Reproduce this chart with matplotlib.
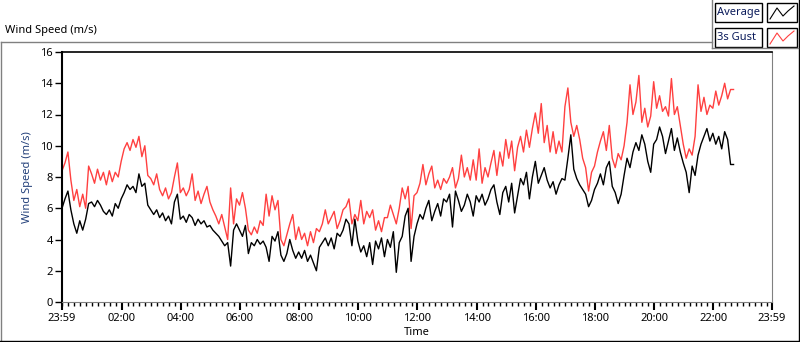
import matplotlib
matplotlib.use("Agg")
import matplotlib.pyplot as plt
from matplotlib.lines import Line2D
from matplotlib.patches import Rectangle
import pandas as pd

plt.rcParams['font.family'] = ['Noto Sans', 'DejaVu Sans']

# wind speed samples, one every 6 minutes starting 23:59
avg = [
    6.0, 6.6, 7.1, 5.9, 5.0, 4.4, 5.2, 4.6, 5.3, 6.3,
    6.4, 6.1, 6.5, 6.2, 5.8, 5.6, 5.9, 5.5, 6.3, 6.0,
    6.6, 7.0, 7.5, 7.2, 7.4, 7.0, 8.2, 7.4, 7.6, 6.2,
    5.9, 5.6, 5.9, 5.4, 5.7, 5.2, 5.5, 5.0, 6.4, 6.9,
    5.3, 5.5, 5.1, 5.6, 5.4, 4.9, 5.3, 5.0, 5.2, 4.8,
    4.9, 4.6, 4.4, 4.2, 3.9, 3.6, 3.8, 2.3, 4.6, 5.0,
    4.6, 4.2, 4.9, 3.1, 3.8, 3.6, 4.0, 3.7, 3.9, 3.5,
    2.6, 4.2, 3.9, 4.5, 3.0, 2.6, 3.1, 4.0, 3.3, 2.8,
    3.2, 2.8, 3.3, 2.6, 3.0, 2.5, 2.0, 3.5, 3.8, 4.1,
    3.6, 4.1, 3.4, 4.4, 4.2, 4.6, 5.3, 5.0, 3.6, 5.3,
    3.9, 3.2, 3.6, 2.9, 3.8, 2.4, 3.9, 3.4, 4.1, 2.9,
    4.0, 3.5, 4.5, 1.9, 3.8, 4.2, 5.5, 6.0, 2.6, 4.2,
    5.0, 5.6, 5.3, 6.0, 6.5, 5.2, 5.8, 6.3, 5.5, 6.6,
    6.4, 6.9, 4.8, 7.1, 6.5, 5.8, 6.2, 6.9, 6.4, 5.5,
    6.8, 6.4, 6.9, 6.2, 6.6, 7.2, 7.5, 6.4, 5.6, 7.0,
    7.4, 6.4, 7.6, 5.7, 6.8, 7.9, 7.5, 8.3, 6.6, 8.0,
    9.0, 7.6, 8.1, 8.6, 7.8, 7.3, 7.7, 6.9, 7.5, 7.9,
    7.8, 9.2, 10.7, 8.5, 7.9, 7.5, 7.2, 6.9, 6.1, 6.5,
    7.2, 7.6, 8.2, 7.5, 8.6, 9.0, 7.4, 7.0, 6.3, 6.9,
    8.1, 9.2, 8.6, 9.6, 10.2, 9.7, 10.7, 10.1, 9.0, 8.3,
    10.1, 10.4, 11.2, 10.6, 9.5, 10.3, 11.1, 9.7, 10.5, 9.6,
    8.9, 8.3, 7.0, 8.7, 8.1, 9.4, 10.1, 10.6, 11.1, 10.3,
    10.8, 10.1, 10.6, 9.8, 10.9, 10.4, 8.8, 8.8,
]
gust = [
    8.4, 8.9, 9.6, 7.8, 6.5, 7.2, 6.1, 6.9, 6.0, 8.7,
    8.2, 7.6, 8.5, 7.8, 8.3, 7.5, 8.4, 7.7, 8.3, 8.0,
    9.0, 9.8, 10.2, 9.7, 10.4, 9.9, 10.6, 9.3, 10.0, 8.1,
    7.9, 7.5, 8.2, 7.2, 6.8, 7.3, 6.6, 7.0, 8.0, 8.9,
    7.0, 7.3, 6.8, 7.2, 8.2, 6.5, 7.1, 6.3, 6.9, 7.4,
    6.4, 5.9, 5.5, 5.0, 5.6, 4.8, 4.0, 7.3, 5.0, 6.6,
    6.2, 7.0, 6.0, 4.6, 4.3, 4.8, 4.4, 5.2, 4.9, 6.9,
    5.5, 6.8, 5.9, 6.5, 4.0, 3.6, 4.3, 5.0, 5.6, 4.0,
    4.8, 4.0, 4.4, 3.6, 4.5, 3.8, 4.7, 4.5, 5.0, 5.9,
    5.0, 5.4, 5.8, 4.7, 5.2, 5.9, 6.1, 6.6, 5.0, 5.6,
    5.2, 6.5, 5.0, 5.8, 5.4, 5.9, 4.6, 5.2, 4.5, 5.4,
    5.4, 6.2, 5.6, 5.0, 6.0, 7.3, 6.6, 7.4, 4.7, 6.8,
    7.0, 7.6, 8.8, 7.5, 8.2, 8.7, 7.3, 7.8, 7.2, 7.9,
    7.6, 8.0, 8.6, 7.3, 7.9, 9.4, 8.0, 8.6, 7.8, 9.1,
    7.8, 9.8, 7.6, 8.6, 8.0, 8.9, 9.7, 8.1, 9.6, 8.7,
    10.4, 9.2, 10.3, 8.4, 9.9, 10.6, 9.6, 11.0, 9.9, 11.1,
    12.1, 10.8, 12.7, 10.2, 11.3, 9.6, 10.9, 9.5, 10.3, 9.6,
    12.5, 13.7, 11.5, 10.6, 11.3, 10.4, 9.2, 8.6, 7.1, 8.3,
    8.7, 9.6, 10.3, 10.9, 9.7, 11.3, 9.2, 8.6, 9.5, 9.1,
    10.0, 11.5, 13.9, 12.0, 12.8, 14.5, 11.5, 12.4, 11.2, 11.9,
    14.1, 12.4, 13.2, 12.2, 12.5, 11.9, 14.3, 12.0, 12.5, 11.3,
    10.1, 9.2, 9.8, 9.4, 10.6, 13.9, 12.2, 13.1, 12.0, 12.6,
    12.4, 13.5, 12.6, 13.2, 14.0, 13.0, 13.6, 13.6,
]
t0 = pd.Timestamp("2014-05-01 23:59")
t1 = pd.Timestamp("2014-05-02 23:59")
times = pd.date_range(t0, periods=len(avg), freq="6min")

tick_times = [t0] + list(pd.date_range("2014-05-02 02:00", periods=11, freq="2h")) + [t1]
tick_labels = ["23:59", "02:00", "04:00", "06:00", "08:00", "10:00", "12:00",
               "14:00", "16:00", "18:00", "20:00", "22:00", "23:59"]
minor_times = pd.date_range("2014-05-02 00:00", "2014-05-02 23:48", freq="12min")

W, H = 800, 342
fig = plt.figure(figsize=(W / 100, H / 100), dpi=100)
ax = fig.add_axes([62 / W, 40 / H, 710 / W, 250 / H])

ax.plot(times, gust, color="#ff4040", lw=1.0)
ax.plot(times, avg, color="black", lw=1.0)

ax.set_xlim(t0, t1)
ax.set_ylim(0, 16)
ax.set_yticks(range(0, 17, 2))
ax.set_xticks(tick_times)
ax.set_xticklabels(tick_labels)
ax.set_xticks(minor_times, minor=True)
ax.tick_params(axis="y", length=5, width=1, pad=1.5, labelsize=8, colors="black")
ax.tick_params(axis="x", which="major", length=6, width=1.5, pad=2, labelsize=8)
ax.tick_params(axis="x", which="minor", length=3, width=1)

ax.spines["left"].set_linewidth(1.5)
ax.spines["top"].set_linewidth(1.2)
ax.spines["right"].set_color("#808080")
ax.spines["bottom"].set_color("#808080")

ax.set_ylabel("Wind Speed (m/s)", fontsize=8, color="#23407a", labelpad=5)
ax.set_xlabel("Time", fontsize=8, labelpad=2)


def fx(px):
    return px / W


def fy(py):
    return 1 - py / H


# outer panel frame
for (x0, y0, x1, y1, c) in [(0.5, 42, 712, 42, "#808080"), (0.5, 42, 0.5, 341, "#808080"),
                            (0, 341, 799, 341, "black"), (798.5, 0, 798.5, 341, "black"),
                            (712, 0, 712, 48, "#808080"), (712, 48, 798, 48, "#808080")]:
    fig.add_artist(Line2D([fx(x0), fx(x1)], [fy(y0), fy(y1)], color=c, lw=1))

fig.text(fx(5), fy(31), "Wind Speed (m/s)", fontsize=8, va="center", ha="left")

# legend boxes
for i, (name, col) in enumerate([("Average", "black"), ("3s Gust", "#ff4040")]):
    top = 3 + i * 25
    fig.add_artist(Rectangle((fx(715), fy(top + 19)), fx(47), 19 / H, fill=False,
                             edgecolor="black", lw=1))
    fig.add_artist(Rectangle((fx(767), fy(top + 19)), fx(30), 19 / H, fill=False,
                             edgecolor="black", lw=1))
    fig.text(fx(717), fy(top + 9.5), name, fontsize=8, va="center", ha="left", color="#0a1a5a")
    zx = [770, 777, 783, 788, 794]
    zy = [top + 16, top + 5, top + 13, top + 8, top + 3]
    fig.add_artist(Line2D([fx(v) for v in zx], [fy(v) for v in zy], color=col, lw=0.8))

fig.savefig("out.png", dpi=100)
